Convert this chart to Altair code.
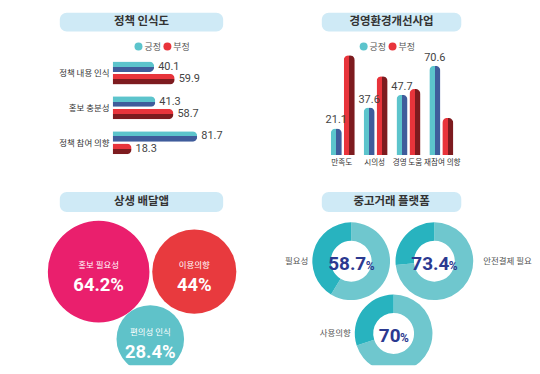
import altair as alt
import pandas as pd

# ---------------- data ----------------
groups = ["긍정", "부정"]

policy_items = ["정책 내용 인식", "홍보 충분성", "정책 참여 의향"]
policy_pos = [40.1, 41.3, 81.7]
policy_neg = [59.9, 58.7, 18.3]

biz_items = ["만족도", "시의성", "경영 도움", "재참여 의향"]
biz_pos = [21.1, 37.6, 47.7, 70.6]
biz_neg = [78.9, 62.4, 52.3, 29.4]

app_items = ["홍보 필요성", "이용의향", "편의성 인식"]
app_vals = [64.2, 44, 28.4]

used_items = ["필요성", "안전결제 필요", "사용의향"]
used_vals = [58.7, 73.4, 70]

titles = ["정책 인식도", "경영환경개선사업", "상생 배달앱", "중고거래 플랫폼"]

KFONT = "Noto Sans CJK KR"
NFONT = "Roboto"
TEAL, BLUE, RED, DRED = "#5cc4cc", "#3f5c9b", "#e8343b", "#7d1b1f"
PILL = "#cfeaf6"


def grad(light, dark, vertical_split):
    if vertical_split:
        x1, y1, x2, y2 = 0, 0, 1, 0
    else:
        x1, y1, x2, y2 = 0, 0, 0, 1
    return alt.Gradient(gradient="linear", x1=x1, y1=y1, x2=x2, y2=y2,
                        stops=[alt.GradientStop(offset=0, color=light), alt.GradientStop(offset=0.5, color=light),
                               alt.GradientStop(offset=0.5, color=dark), alt.GradientStop(offset=1, color=dark)])


def pill(title, x0, x1, y0, y1):
    d = pd.DataFrame({"t": [title]})
    r = alt.Chart(d).mark_rect(cornerRadius=7, color=PILL).encode(
        x=alt.value(x0), x2=alt.value(x1), y=alt.value(y0), y2=alt.value(y1))
    t = alt.Chart(d).mark_text(font=KFONT, fontSize=11.5, fontWeight="bold", color="#333").encode(
        x=alt.value((x0 + x1) / 2), y=alt.value((y0 + y1) / 2), text="t:N")
    return [r, t]


def legend_marks(x0, y0):
    d = pd.DataFrame({"g": groups})
    out = []
    for i, (g, c) in enumerate(zip(groups, [TEAL, RED])):
        out.append(alt.Chart(d).transform_filter(f"datum.g == '{g}'").mark_circle(size=64, opacity=1, color=c)
                   .encode(x=alt.value(x0 + 29 * i), y=alt.value(y0)))
        out.append(alt.Chart(d).transform_filter(f"datum.g == '{g}'")
                   .mark_text(align="left", fontSize=9, font=KFONT, color="#555")
                   .encode(x=alt.value(x0 + 29 * i + 6), y=alt.value(y0), text="g:N"))
    return out


W, HT, HB = 262, 176, 182

# ---------------- panel A ----------------
dfA = pd.DataFrame({"item": policy_items * 2, "group": ["긍정"] * 3 + ["부정"] * 3,
                    "value": policy_pos + policy_neg})
xA = alt.X("value:Q", scale=alt.Scale(domain=[0, 100], range=[105, 209]), axis=None)
yA = alt.Y("item:N", scale=alt.Scale(domain=policy_items, range=[53, 146], paddingInner=0.343, paddingOuter=0), axis=None)
yoA = alt.YOffset("group:N", scale=alt.Scale(domain=groups, paddingInner=0.15, paddingOuter=0))
baseA = alt.Chart(dfA)
A_layers = pill(titles[0], 52, 216, 4, 23) + [
    baseA.transform_filter("datum.group == '긍정'").mark_bar(color=grad(TEAL, BLUE, False), cornerRadiusEnd=5)
    .encode(x=xA, y=yA, yOffset=yoA),
    baseA.transform_filter("datum.group == '부정'").mark_bar(color=grad(RED, DRED, False), cornerRadiusEnd=5)
    .encode(x=xA, y=yA, yOffset=yoA),
    baseA.mark_text(align="left", dx=4, fontSize=11, font=NFONT, color="#444")
    .encode(x=xA, y=yA, yOffset=yoA, text=alt.Text("value:Q", format=".1f")),
    alt.Chart(pd.DataFrame({"item": policy_items})).mark_text(align="right", dx=-3, fontSize=8.5, font=KFONT, color="#333")
    .encode(x=alt.datum(0), y=yA, text="item:N"),
] + legend_marks(131, 38)
A = alt.layer(*A_layers).properties(width=W, height=HT)

# ---------------- panel B ----------------
dfB = pd.DataFrame({"item": biz_items * 2, "group": ["긍정"] * 4 + ["부정"] * 4,
                    "value": biz_pos + biz_neg})
xB = alt.X("item:N", scale=alt.Scale(domain=biz_items, range=[62, 185], paddingInner=0.27, paddingOuter=0), axis=None)
xoB = alt.XOffset("group:N", scale=alt.Scale(domain=groups, paddingInner=0.15, paddingOuter=0))
yB = alt.Y("value:Q", scale=alt.Scale(domain=[0, 100], range=[147, 20]), axis=None)
baseB = alt.Chart(dfB)
B_layers = pill(titles[1], 53, 193, 4, 23) + [
    baseB.transform_filter("datum.group == '긍정'").mark_bar(color=grad(TEAL, BLUE, True), cornerRadiusEnd=5)
    .encode(x=xB, xOffset=xoB, y=yB),
    baseB.transform_filter("datum.group == '부정'").mark_bar(color=grad(RED, DRED, True), cornerRadiusEnd=5)
    .encode(x=xB, xOffset=xoB, y=yB),
    baseB.transform_filter("datum.group == '긍정'").mark_text(baseline="bottom", dy=-3, fontSize=11, font=NFONT, color="#444")
    .encode(x=xB, xOffset=xoB, y=yB, text=alt.Text("value:Q", format=".1f")),
    alt.Chart(pd.DataFrame({"item": biz_items[:3]})).mark_text(dy=8, dx=-1, fontSize=7.6, font=KFONT, color="#333")
    .encode(x=xB, y=alt.datum(0), text="item:N"),
    alt.Chart(pd.DataFrame({"item": biz_items[3:]})).mark_text(dy=8, dx=1, fontSize=7.6, font=KFONT, color="#333")
    .encode(x=xB, y=alt.datum(0), text="item:N"),
] + legend_marks(95, 38)
B = alt.layer(*B_layers).properties(width=W, height=HT)

# ---------------- panel C ----------------
dfC = pd.DataFrame({"item": app_items, "value": app_vals})
baseC = alt.Chart(dfC).transform_calculate(
    col="datum.item == '홍보 필요성' ? 0 : (datum.item == '이용의향' ? 1 : 0.54)",
    row="datum.item == '편의성 인식' ? 1 : 0",
    label="datum.value + '%'")
xC = alt.X("col:Q", scale=alt.Scale(domain=[0, 1], range=[91, 187]), axis=None)
yC = alt.Y("row:Q", scale=alt.Scale(domain=[0, 1], range=[88, 155.5]), axis=None)
C_layers = pill(titles[2], 52, 216, 8, 28) + [
    baseC.mark_circle(opacity=1, clip=True).encode(
        x=xC, y=yC,
        size=alt.Size("value:Q", scale=alt.Scale(type="linear", domain=[0, 100], range=[0, 16200], zero=True), legend=None),
        color=alt.Color("item:N", scale=alt.Scale(domain=app_items, range=["#ea1f6d", "#e83a3e", "#5fc2c9"]), legend=None)),
    baseC.mark_text(dy=-7, fontSize=8.5, font=KFONT, color="white").encode(x=xC, y=yC, text="item:N"),
    baseC.mark_text(dy=13.5, fontSize=18.5, fontWeight="bold", font=NFONT, color="white").encode(x=xC, y=yC, text="label:N"),
]
C = alt.layer(*C_layers).properties(width=W, height=HB)

# ---------------- panel D ----------------
dfD = pd.DataFrame({"item": used_items, "value": used_vals})
baseD = alt.Chart(dfD).transform_calculate(
    col="datum.item == '필요성' ? 0 : (datum.item == '안전결제 필요' ? 1 : 0.51)",
    row="datum.item == '사용의향' ? 1 : 0",
    t0="0", t100="100",
    num="'' + datum.value", nlen="length('' + datum.value)")
xD = alt.X("col:Q", scale=alt.Scale(domain=[0, 1], range=[82.5, 166]), axis=None)
yD = alt.Y("row:Q", scale=alt.Scale(domain=[0, 1], range=[77.5, 150]), axis=None)
thS = alt.Scale(domain=[0, 100], range=[0, 6.283185307179586])
D_layers = pill(titles[3], 53, 193, 8, 28) + [
    baseD.mark_arc(outerRadius=39, innerRadius=20.5, color="#6fc7ce", clip=True).encode(
        x=xD, y=yD, theta=alt.Theta("t0:Q", stack=None, scale=thS), theta2="value:Q"),
    baseD.mark_arc(outerRadius=39, innerRadius=20.5, color="#28b3bf", clip=True).encode(
        x=xD, y=yD, theta=alt.Theta("value:Q", stack=None, scale=thS), theta2="t100:Q"),
    baseD.mark_text(dx=-4, dy=9, baseline="alphabetic", fontSize=19, fontWeight="bold", font=NFONT, color="#2b3990")
    .encode(x=xD, y=yD, text="num:N"),
    baseD.transform_filter("datum.nlen > 2").mark_text(align="left", dx=14.5, dy=9, baseline="alphabetic", fontSize=12,
                                                        fontWeight="bold", font=NFONT, color="#2b3990")
    .encode(x=xD, y=yD, text=alt.value("%")),
    baseD.transform_filter("datum.nlen <= 2").mark_text(align="left", dx=6.5, dy=9, baseline="alphabetic", fontSize=12,
                                                         fontWeight="bold", font=NFONT, color="#2b3990")
    .encode(x=xD, y=yD, text=alt.value("%")),
    baseD.transform_filter("datum.item != '안전결제 필요'").mark_text(align="right", dx=-43, fontSize=8.5, font=KFONT, color="#555")
    .encode(x=xD, y=yD, text="item:N"),
    baseD.transform_filter("datum.item == '안전결제 필요'").mark_text(align="left", dx=49, fontSize=8.5, font=KFONT, color="#555")
    .encode(x=xD, y=yD, text="item:N"),
]
D = alt.layer(*D_layers).properties(width=W, height=HB)

top = alt.hconcat(A, B, spacing=0, bounds="flush")
bottom = alt.hconcat(C, D, spacing=0, bounds="flush")
chart = (alt.vconcat(top, bottom, spacing=0)
         .properties(padding=0, background="white")
         .configure_view(stroke=None))

chart.save("out.html", embed_options={"renderer": "svg", "actions": False})
